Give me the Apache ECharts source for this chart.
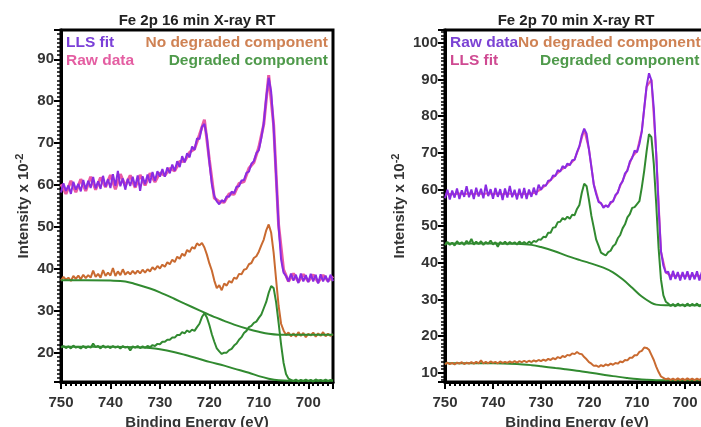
<!DOCTYPE html>
<html>
<head>
<meta charset="utf-8">
<script src="https://cdn.jsdelivr.net/npm/echarts@6/dist/echarts.min.js"></script>
<style>
  html, body { margin: 0; padding: 0; background: #fff; overflow: hidden; }
  #chart { width: 720px; height: 427px; }
</style>
</head>
<body>
<div id="chart"></div>
<script>
// Fe 2p core-level spectra. Fine arrays run from 750 eV down to 695 eV in 0.5 eV steps,
// coarse arrays in 1 eV steps. Intensities are in units of 10^2 counts.
const E_START = 750;
const FINE_STEP = 0.5;
const COARSE_STEP = 1;

const panelTitles = ['Fe 2p 16 min X-ray RT', 'Fe 2p 70 min X-ray RT'];
const xAxisName = 'Binding Energy (eV)';

// ---- 16 min ----
const fit16 = [
  58.2,60.4,58.6,59.9,57.9,60.8,58.9,60.3,58.5,61.2,59.0,61.0,59.3,61.9,59.2,60.9,59.1,62.2,59.6,61.4,
  59.3,62.6,59.8,63.4,59.7,61.6,58.9,61.5,59.8,62.0,59.6,62.3,58.6,62.1,60.2,62.5,60.5,63.1,61.0,63.3,
  62.0,63.8,62.0,64.2,62.8,64.9,63.4,65.7,64.3,66.9,65.4,67.6,66.6,69.2,68.4,71.1,71.0,73.9,74.6,71.5,
  65.5,60.2,57.4,56.1,55.4,56.4,56.0,57.3,57.2,58.4,58.1,59.6,59.7,61.1,61.2,62.9,63.2,65.1,65.7,67.6,
  68.3,71.2,74.8,80.9,85.6,82.2,73.8,62.1,50.2,42.3,39.1,38.3,37.0,38.9,37.2,38.6,36.6,38.9,37.0,38.5,
  36.8,38.8,37.0,38.6,36.5,38.7,37.0,38.4,36.8,38.6,37.1
];
const raw16 = [
  60.2,57.9,61.0,58.3,61.4,58.6,62.0,58.9,61.8,59.5,62.4,59.0,62.6,59.8,62.3,59.4,62.4,59.9,62.8,60.7,
  62.9,62.3,64.0,63.4,65.6,65.7,67.8,68.6,72.0,75.6,66.0,56.9,56.0,55.9,57.9,57.8,60.4,60.8,64.0,65.4,
  69.0,74.5,86.2,74.3,50.5,39.8,37.0,38.9,36.9,38.7,37.0,38.6,36.8,38.5,37.1,38.2
];
const intact16 = [
  37.2,38.1,37.4,37.9,37.1,38.3,37.6,38.4,37.5,38.6,37.8,38.5,37.9,39.6,38.1,38.8,37.9,39.7,38.3,39.1,
  38.4,40.2,38.3,39.4,38.5,39.9,38.6,39.3,38.7,39.5,38.8,39.6,38.9,39.8,39.1,39.9,39.4,40.4,39.8,40.7,
  40.1,41.0,40.5,41.6,41.1,42.2,41.6,42.9,42.4,43.6,43.1,44.5,44.0,45.2,44.8,46.1,45.6,46.2,45.1,43.4,
  41.3,39.6,37.2,35.4,36.1,34.9,36.5,36.0,37.1,36.7,37.9,37.6,38.8,38.7,39.8,40.0,41.1,41.4,42.6,43.0,
  44.1,45.6,47.0,49.2,50.6,48.6,43.8,37.4,31.2,26.9,25.3,24.2,24.8,23.9,24.6,23.8,24.9,24.0,24.7,23.7,
  24.5,24.1,24.8,23.8,24.6,24.0,24.9,23.9,24.5,24.0,24.4
];
const degraded16 = [
  21.2,21.6,21.1,21.5,21.0,21.7,21.2,21.4,21.0,21.6,21.1,21.5,21.2,22.2,21.3,21.6,21.0,21.7,21.2,21.5,
  21.1,21.6,21.2,21.5,21.0,21.6,21.2,21.4,20.5,21.5,21.2,21.6,21.1,21.5,21.2,21.6,21.3,21.8,21.6,22.1,
  22.0,22.6,22.6,23.1,23.1,23.6,23.6,24.2,24.2,24.9,24.6,25.3,24.9,25.5,25.2,26.1,26.9,28.5,29.4,28.4,
  26.6,24.4,22.6,21.0,20.3,19.7,20.0,20.0,20.6,20.9,21.7,22.2,23.1,23.7,24.7,25.2,26.1,26.4,27.1,27.4,
  28.3,29.1,30.6,32.1,34.3,35.9,35.4,32.0,27.1,22.0,17.6,14.9,13.8,13.5,13.2,13.6,13.1,13.5,13.2,13.6,
  13.2,13.5,13.1,13.6,13.3,13.5,13.2,13.6,13.2,13.5,13.3
];
// Shirley-type backgrounds as [energy, intensity] knots
const intactBg16 = [
  [750,37.3],[745,37.3],[740,37.2],[737,37.0],[735,36.4],[732,35.3],[730,34.4],[727,32.8],[725,31.7],
  [722,30.1],[720,29.0],[717,27.6],[715,26.7],[712,25.6],[710,25.0],[708,24.5],[706,24.3],[700,24.3],[695,24.3]
];
const degradedBg16 = [
  [750,21.4],[740,21.4],[735,21.3],[732,21.1],[730,20.8],[727,20.1],[725,19.5],[722,18.5],[720,17.8],
  [717,16.9],[715,16.2],[712,15.2],[710,14.4],[708,13.8],[706,13.4],[704,13.3],[700,13.3],[695,13.3]
];

// ---- 70 min ----
const raw70 = [
  57.6,59.9,57.3,59.7,57.8,60.3,57.4,59.8,58.0,60.9,57.9,60.0,57.4,60.5,58.1,60.2,57.6,61.3,58.2,60.1,
  57.5,60.4,58.0,60.1,57.1,60.3,57.8,61.0,57.9,59.9,57.3,60.2,57.6,60.4,57.4,60.0,58.0,60.5,58.5,61.3,
  59.9,61.2,61.0,62.4,62.5,63.8,63.7,65.3,64.9,66.4,65.8,67.1,66.6,68.0,68.1,70.2,71.8,74.8,76.6,75.2,
  70.8,66.1,61.3,58.7,56.6,56.3,55.0,55.7,55.2,56.6,56.7,58.5,59.1,61.3,62.2,64.4,65.1,67.6,68.6,70.6,
  70.2,72.4,75.8,82.1,88.2,91.7,89.8,82.2,69.8,55.2,43.1,39.2,37.3,37.6,35.3,37.8,35.6,37.5,35.2,37.5,
  35.5,37.7,35.3,37.4,35.5,37.7,35.2,37.5,35.6,37.6,35.7
];
const fit70 = [
  58.6,58.8,58.7,58.9,58.7,58.9,58.8,58.9,58.8,59.0,58.8,58.9,58.7,58.9,58.8,58.7,58.8,58.8,58.9,59.2,
  60.1,61.2,62.6,63.9,65.1,66.1,66.9,68.2,71.7,76.3,71.0,61.4,56.9,55.4,55.5,56.9,59.4,62.4,65.4,68.9,
  70.4,76.0,88.0,90.0,70.0,43.0,37.4,36.5,36.5,36.5,36.5,36.5,36.5,36.5,36.5,36.5
];
const degraded70 = [
  44.8,45.7,44.9,45.5,44.7,45.9,45.1,45.6,44.9,46.0,45.2,46.5,45.0,45.8,45.1,45.9,44.9,45.7,45.2,46.1,
  45.0,45.6,44.4,45.7,45.1,45.8,45.0,45.7,45.2,45.6,45.0,45.8,45.2,45.7,45.1,45.8,45.3,46.0,45.7,46.4,
  46.3,47.1,47.0,48.2,48.2,49.6,49.7,51.1,51.2,52.2,51.8,52.6,52.0,53.1,53.0,54.7,55.8,59.1,61.6,60.9,
  57.1,52.8,49.6,46.3,44.6,42.8,42.4,42.0,42.9,43.3,44.5,45.1,46.7,47.6,49.4,50.5,52.4,53.3,55.0,55.2,
  56.0,56.8,60.6,65.1,70.4,75.1,74.3,67.0,56.1,44.0,35.4,31.1,29.4,28.9,28.2,28.8,28.1,28.9,28.3,28.7,
  28.1,28.9,28.2,28.8,28.3,28.9,28.1,28.7,28.2,28.8,28.3
];
const intact70 = [
  12.3,12.8,12.4,12.7,12.3,12.8,12.5,12.9,12.4,12.8,12.5,12.9,12.5,13.0,12.6,13.4,12.6,13.0,12.6,13.1,
  12.7,13.0,12.6,13.1,12.7,13.0,12.7,13.1,12.8,13.2,12.8,13.2,12.9,13.3,12.9,13.3,13.0,13.4,13.1,13.5,
  13.2,13.6,13.3,13.8,13.5,14.0,13.7,14.3,14.0,14.6,14.3,14.9,14.7,15.3,15.1,15.7,15.2,15.1,14.3,13.7,
  12.9,12.5,11.9,12.0,11.6,12.1,11.8,12.3,12.0,12.5,12.2,12.7,12.5,13.1,12.9,13.5,13.4,14.1,14.1,14.8,
  14.8,15.7,16.0,16.9,16.8,16.3,14.9,13.5,11.7,10.2,9.0,8.6,8.2,8.5,8.1,8.4,8.0,8.5,8.1,8.4,
  8.0,8.5,8.1,8.4,8.0,8.4,8.1,8.5,8.0,8.4,8.1
];
const degradedBg70 = [
  [750,45.3],[740,45.3],[735,45.2],[732,44.9],[730,44.3],[727,43.1],[725,42.1],[722,40.8],[720,40.0],
  [717,38.7],[715,37.4],[713,35.5],[711,33.2],[709,30.8],[707,29.1],[706,28.6],[704,28.4],[700,28.4],[695,28.4]
];
const intactBg70 = [
  [750,12.6],[740,12.6],[735,12.4],[732,12.1],[730,11.8],[727,11.3],[725,11.0],[722,10.5],[720,10.1],
  [717,9.5],[715,9.1],[712,8.6],[710,8.3],[708,8.1],[706,8.0],[700,8.0],[695,8.0]
];

// colours
const C_PURPLE = '#8a2be2';
const C_PINK = '#ea5aa4';
const C_ORANGE = '#c96a30';
const C_GREEN = '#318a30';

function onGrid(values, step) {
  return values.map((v, i) => [E_START - i * step, v]);
}

const FONT = '"Liberation Sans", Arial, sans-serif';
const axisText = { color: '#333', fontFamily: FONT, fontWeight: 'bold', fontSize: 15 };

function xAxisFor(gridIndex) {
  return {
    type: 'value', gridIndex, min: 695, max: 750, inverse: true,
    name: xAxisName, nameLocation: 'middle', nameGap: 27,
    nameTextStyle: Object.assign({}, axisText, { fontSize: 15 }),
    axisLine: { show: true, onZero: false, lineStyle: { color: '#000', width: 3 } },
    axisTick: { show: true, inside: false, length: 7, lineStyle: { color: '#000', width: 2 } },
    minorTick: { show: true, splitNumber: 10, length: 4, lineStyle: { color: '#000', width: 2 } },
    axisLabel: Object.assign({}, axisText, { margin: 13, formatter: v => (v % 10 === 0 ? String(v) : '') }),
    splitLine: { show: false }
  };
}
function yAxisFor(gridIndex, min, max, nameGap) {
  return {
    type: 'value', gridIndex, min, max, splitNumber: 10,
    name: '{m|Intensity x 10}{s|-2}', nameLocation: 'middle', nameGap,
    nameTextStyle: {
      color: '#333', fontFamily: FONT, fontWeight: 'bold',
      rich: {
        m: { fontFamily: FONT, fontWeight: 'bold', fontSize: 15, color: '#333', lineHeight: 20 },
        s: { fontFamily: FONT, fontWeight: 'bold', fontSize: 11, color: '#333', lineHeight: 10, verticalAlign: 'top' }
      }
    },
    axisLine: { show: true, onZero: false, lineStyle: { color: '#000', width: 3 } },
    axisTick: { show: true, inside: false, length: 7, lineStyle: { color: '#000', width: 2 } },
    minorTick: { show: true, splitNumber: 10, length: 4, lineStyle: { color: '#000', width: 1.5 } },
    axisLabel: Object.assign({}, axisText, { margin: 7, formatter: v => (v % 10 === 0 ? String(v) : '') }),
    splitLine: { show: false }
  };
}

function line(name, data, color, width, axisIdx, z, smooth) {
  return {
    type: 'line', name, data, xAxisIndex: axisIdx, yAxisIndex: axisIdx,
    showSymbol: false, symbol: 'none', smooth: smooth ? 0.35 : false,
    lineStyle: { color, width }, z, animation: false, silent: true
  };
}

function label(text, x, y, color, align) {
  return {
    type: 'text', x, y, z: 100,
    style: { text, fill: color, font: 'bold 15.5px ' + FONT, textAlign: align || 'left', textVerticalAlign: 'middle' }
  };
}

const gridBase = { top: 30, height: 352, show: true, borderColor: '#000', borderWidth: 3,
  backgroundColor: 'transparent', containLabel: false, outerBoundsMode: 'none' };

const option = {
  backgroundColor: '#fff',
  animation: false,
  grid: [
    Object.assign({ left: 61, width: 272 }, gridBase),
    Object.assign({ left: 445, width: 264 }, gridBase)
  ],
  xAxis: [xAxisFor(0), xAxisFor(1)],
  yAxis: [yAxisFor(0, 13, 97, 27), yAxisFor(1, 7.5, 103.5, 35)],
  series: [
    line('Raw data', onGrid(raw16, COARSE_STEP), C_PINK, 3, 0, 2),
    line('LLS fit', onGrid(fit16, FINE_STEP), C_PURPLE, 2, 0, 3),
    line('No degraded component', onGrid(intact16, FINE_STEP), C_ORANGE, 2, 0, 3),
    line('No degraded background', intactBg16, C_GREEN, 2, 0, 4, true),
    line('Degraded component', onGrid(degraded16, FINE_STEP), C_GREEN, 2, 0, 3),
    line('Degraded background', degradedBg16, C_GREEN, 2, 0, 4, true),

    line('LLS fit', onGrid(fit70, COARSE_STEP), C_PINK, 2, 1, 2),
    line('Raw data', onGrid(raw70, FINE_STEP), C_PURPLE, 2, 1, 3),
    line('Degraded component', onGrid(degraded70, FINE_STEP), C_GREEN, 2, 1, 3),
    line('Degraded background', degradedBg70, C_GREEN, 2, 1, 4, true),
    line('No degraded background', intactBg70, C_GREEN, 2, 1, 3, true),
    line('No degraded component', onGrid(intact70, FINE_STEP), C_ORANGE, 2, 1, 4)
  ],
  graphic: [
    { type: 'text', x: 197, y: 21, z: 100, style: { text: panelTitles[0], fill: '#222', font: 'bold 15px ' + FONT, textAlign: 'center', textVerticalAlign: 'middle' } },
    { type: 'text', x: 576, y: 21, z: 100, style: { text: panelTitles[1], fill: '#222', font: 'bold 15px ' + FONT, textAlign: 'center', textVerticalAlign: 'middle' } },
    label('LLS fit', 66, 43, '#7a3fd8'),
    label('Raw data', 66, 61, '#e45ea2'),
    label('No degraded component', 328, 43, '#cf8254', 'right'),
    label('Degraded component', 328, 61, '#4f9a4b', 'right'),
    label('Raw data', 450, 43, '#7b42d4'),
    label('LLS fit', 450, 61, '#cf4a92'),
    label('No degraded component', 518, 43, '#cf8254'),
    label('Degraded component', 540, 61, '#4f9a4b')
  ]
};

const chart = echarts.init(document.getElementById('chart'), null, { renderer: 'canvas' });
chart.setOption(option);
</script>
</body>
</html>
